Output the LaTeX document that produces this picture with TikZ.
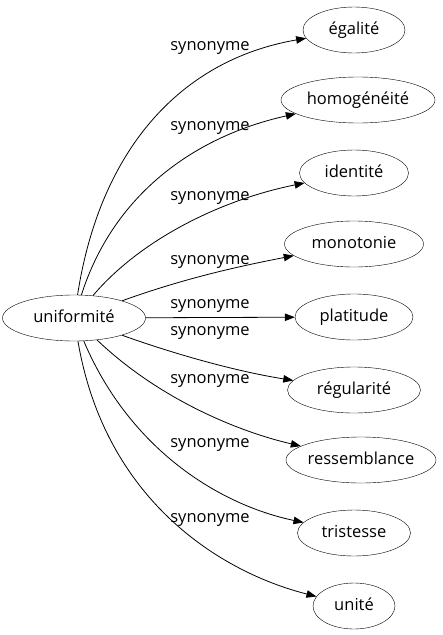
\documentclass[tikz,border=0pt]{standalone}
\usepackage{fontspec}
\setmainfont{Open Sans}
\usetikzlibrary{arrows.meta,shapes.geometric}
\newcommand{\wordbox}[1]{\makebox[0pt]{\rule[-4pt]{0pt}{16pt}#1}}
\begin{document}
\begin{tikzpicture}[x=1pt,y=-1pt,
  word/.style={draw,ellipse,inner sep=0pt,minimum height=46pt,font=\fontsize{16.5}{19}\selectfont},
  lbl/.style={font=\fontsize{16.5}{19}\selectfont,inner sep=0pt},
  link/.style={-{Triangle[length=10pt,width=7.5pt]},line width=0.8pt}]
\useasboundingbox (0,0) rectangle (443,635);
\node[word,minimum width=143pt] (u) at (74,318) {\wordbox{uniformité}};
\node[word,minimum width=102pt] (n1) at (354,30) {\wordbox{égalité}};
\node[word,minimum width=154pt] (n2) at (358,100) {\wordbox{homogénéité}};
\node[word,minimum width=109pt] (n3) at (354,173) {\wordbox{identité}};
\node[word,minimum width=139pt] (n4) at (354,244) {\wordbox{monotonie}};
\node[word,minimum width=118pt] (n5) at (354,317) {\wordbox{platitude}};
\node[word,minimum width=133pt] (n6) at (354,390) {\wordbox{régularité}};
\node[word,minimum width=150pt] (n7) at (361,460) {\wordbox{ressemblance}};
\node[word,minimum width=113pt] (n8) at (354,533) {\wordbox{tristesse}};
\node[word,minimum width=82pt] (n9) at (354,606) {\wordbox{unité}};
\draw[link] (u) .. controls (100,150) and (180,60) .. (n1);
\draw[link] (u) .. controls (115,190) and (200,135) .. (n2);
\draw[link] (u) .. controls (140,240) and (220,200) .. (n3);
\draw[link] (u) .. controls (180,280) and (230,268) .. (n4);
\draw[link] (u) -- (n5);
\draw[link] (u) .. controls (180,356) and (240,372) .. (n6);
\draw[link] (u) .. controls (160,400) and (240,432) .. (n7);
\draw[link] (u) .. controls (130,450) and (220,505) .. (n8);
\draw[link] (u) .. controls (105,500) and (220,572) .. (n9);
\node[lbl] (l1) at (210,48) {synonyme};
\node[lbl] (l2) at (210,128) {synonyme};
\node[lbl] (l3) at (210,198) {synonyme};
\node[lbl] (l4) at (210,262) {synonyme};
\node[lbl] (l5) at (210,306) {synonyme};
\node[lbl] (l6) at (210,333) {synonyme};
\node[lbl] (l7) at (210,381) {synonyme};
\node[lbl] (l8) at (210,445) {synonyme};
\node[lbl] (l9) at (210,520) {synonyme};
\end{tikzpicture}
\end{document}
